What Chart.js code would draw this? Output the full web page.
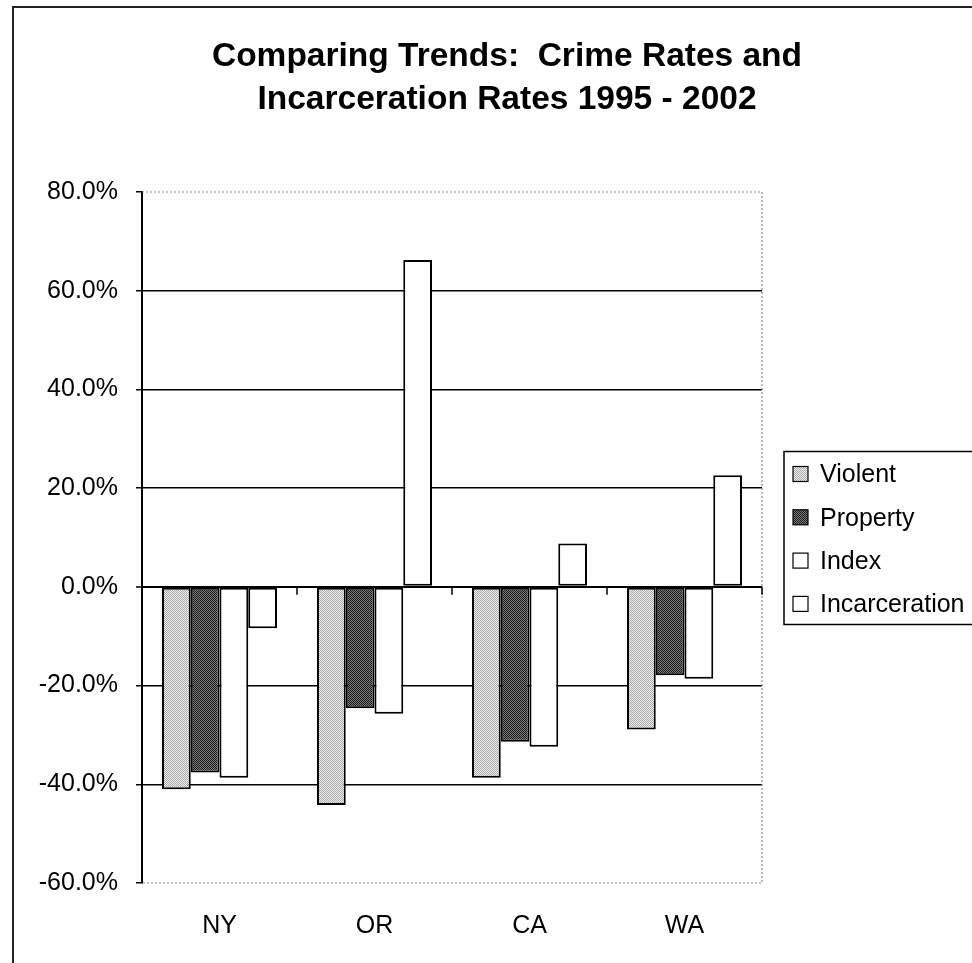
<!DOCTYPE html>
<html>
<head>
<meta charset="utf-8">
<title>Comparing Trends: Crime Rates and Incarceration Rates 1995 - 2002</title>
<script src="https://cdn.jsdelivr.net/npm/chart.js@4.4.1/dist/chart.umd.min.js"></script>
<style>
  html, body { margin: 0; padding: 0; background: #fff; overflow: hidden; }
  #frame {
    position: absolute; left: 12px; top: 6px;
    width: 986px; height: 960px;
    border-left: 2px solid #222; border-top: 2px solid #222;
  }
  canvas { display: block; }
</style>
</head>
<body>
<div id="frame"><canvas id="crimeChart" width="986" height="955"></canvas></div>
<script>
// values, percent change 1995 - 2002
const states = ['NY', 'OR', 'CA', 'WA'];
const violent = [-41.0, -44.2, -38.7, -28.9];
const property = [-37.6, -24.6, -31.4, -17.9];
const indexCrime = [-38.7, -25.7, -32.4, -18.6];
const incarceration = [-8.4, 66.2, 8.8, 22.6];
const yTicks = [-60, -40, -20, 0, 20, 40, 60, 80];

const FONT = '"Liberation Sans", Arial, sans-serif';
const canvas = document.getElementById('crimeChart');
const ctx = canvas.getContext('2d');

// small dithered fill, like the scanned print
function dither(light, dark) {
    const c = document.createElement('canvas');
    c.width = 2; c.height = 2;
    const g = c.getContext('2d');
    g.fillStyle = light; g.fillRect(0, 0, 2, 2);
    g.fillStyle = dark; g.fillRect(0, 0, 1, 1); g.fillRect(1, 1, 1, 1);
    return ctx.createPattern(c, 'repeat');
}

const plotFrame = {
    id: 'plotFrame',
    beforeDatasetsDraw(chart) {
        const a = chart.chartArea, c = chart.ctx;
        c.save();
        c.strokeStyle = '#8a8a8a';
        c.lineWidth = 1.2;
        c.setLineDash([2, 2]);
        c.beginPath();
        c.moveTo(a.left, a.top); c.lineTo(a.right, a.top);
        c.lineTo(a.right, a.bottom); c.lineTo(a.left, a.bottom);
        c.stroke();
        c.restore();
    },
    afterDatasetsDraw(chart) {
        // category tick marks hanging from the 0% line
        const a = chart.chartArea, c = chart.ctx;
        const y0 = chart.scales.y.getPixelForValue(0);
        const step = a.width / states.length;
        c.save();
        c.strokeStyle = '#000';
        c.lineWidth = 1.5;
        for (let k = 1; k <= states.length; k++) {
            const x = Math.round(a.left + k * step);
            c.beginPath();
            c.moveTo(x, y0); c.lineTo(x, y0 + 8);
            c.stroke();
        }
        c.restore();
    }
};

const boxLegend = {
    id: 'boxLegend',
    afterDraw(chart) {
        const a = chart.chartArea, c = chart.ctx;
        const left = a.right + 22;
        const top = (a.top + a.bottom) / 2 - 86;
        c.save();
        c.strokeStyle = '#000';
        c.lineWidth = 1.5;
        c.strokeRect(left, top, 230, 173);
        c.font = '25px ' + FONT;
        c.textBaseline = 'middle';
        chart.data.datasets.forEach((ds, i) => {
            const y = top + 23 + i * 43.3;
            c.fillStyle = ds.backgroundColor;
            c.fillRect(left + 9, y - 8, 15, 15);
            c.lineWidth = 1.2;
            c.strokeRect(left + 9, y - 8, 15, 15);
            c.fillStyle = '#000';
            c.fillText(ds.label, left + 36, y + 1);
        });
        c.restore();
    }
};

new Chart(ctx, {
    type: 'bar',
    data: {
        labels: states,
        datasets: [
            { label: 'Violent', data: violent, backgroundColor: dither('#eeeeee', '#a9a9a9') },
            { label: 'Property', data: property, backgroundColor: dither('#7a7a7a', '#1c1c1c') },
            { label: 'Index', data: indexCrime, backgroundColor: '#ffffff' },
            { label: 'Incarceration', data: incarceration, backgroundColor: '#ffffff' }
        ]
    },
    options: {
        responsive: false,
        animation: false,
        layout: { padding: { left: 0, right: 0, top: 0, bottom: 20 } },
        datasets: {
            bar: {
                categoryPercentage: 0.742,
                barPercentage: 1,
                borderColor: '#000',
                borderWidth: 2,
                borderSkipped: false
            }
        },
        plugins: {
            legend: { display: false },
            tooltip: { enabled: false },
            title: {
                display: true,
                text: ['Comparing Trends:  Crime Rates and', 'Incarceration Rates 1995 - 2002'],
                color: '#000',
                font: { family: FONT, size: 33.5, weight: 'bold', lineHeight: 43 / 33.5 },
                padding: { top: 27, bottom: 71 }
            }
        },
        scales: {
            x: {
                grid: { display: false, drawTicks: false },
                border: { display: false },
                ticks: { color: '#000', font: { family: FONT, size: 25 }, padding: 28 },
                afterFit: (scale) => { scale.height = 60; }
            },
            y: {
                min: -60,
                max: 80,
                afterBuildTicks: (scale) => { scale.ticks = yTicks.map(v => ({ value: v })); },
                afterFit: (scale) => { scale.width = 128; },
                ticks: {
                    color: '#000',
                    font: { family: FONT, size: 25 },
                    padding: 18,
                    callback: (v) => Number(v).toFixed(1) + '%'
                },
                grid: {
                    color: (c) => (c.tick && (c.tick.value === 80 || c.tick.value === -60)) ? 'rgba(0,0,0,0)' : '#000',
                    lineWidth: (c) => (c.tick && c.tick.value === 0) ? 2 : 1.5,
                    tickColor: '#000',
                    tickLength: 6,
                    tickWidth: 1.5
                },
                border: { color: '#000', width: 2 }
            },
            // empty right-hand strip that holds the legend
            legendSpace: {
                type: 'linear',
                axis: 'y',
                position: 'right',
                min: 0,
                max: 1,
                grid: { display: false, drawTicks: false },
                border: { display: false },
                ticks: { display: false },
                afterFit: (scale) => { scale.width = 238; }
            }
        }
    },
    plugins: [plotFrame, boxLegend]
});
</script>
</body>
</html>
